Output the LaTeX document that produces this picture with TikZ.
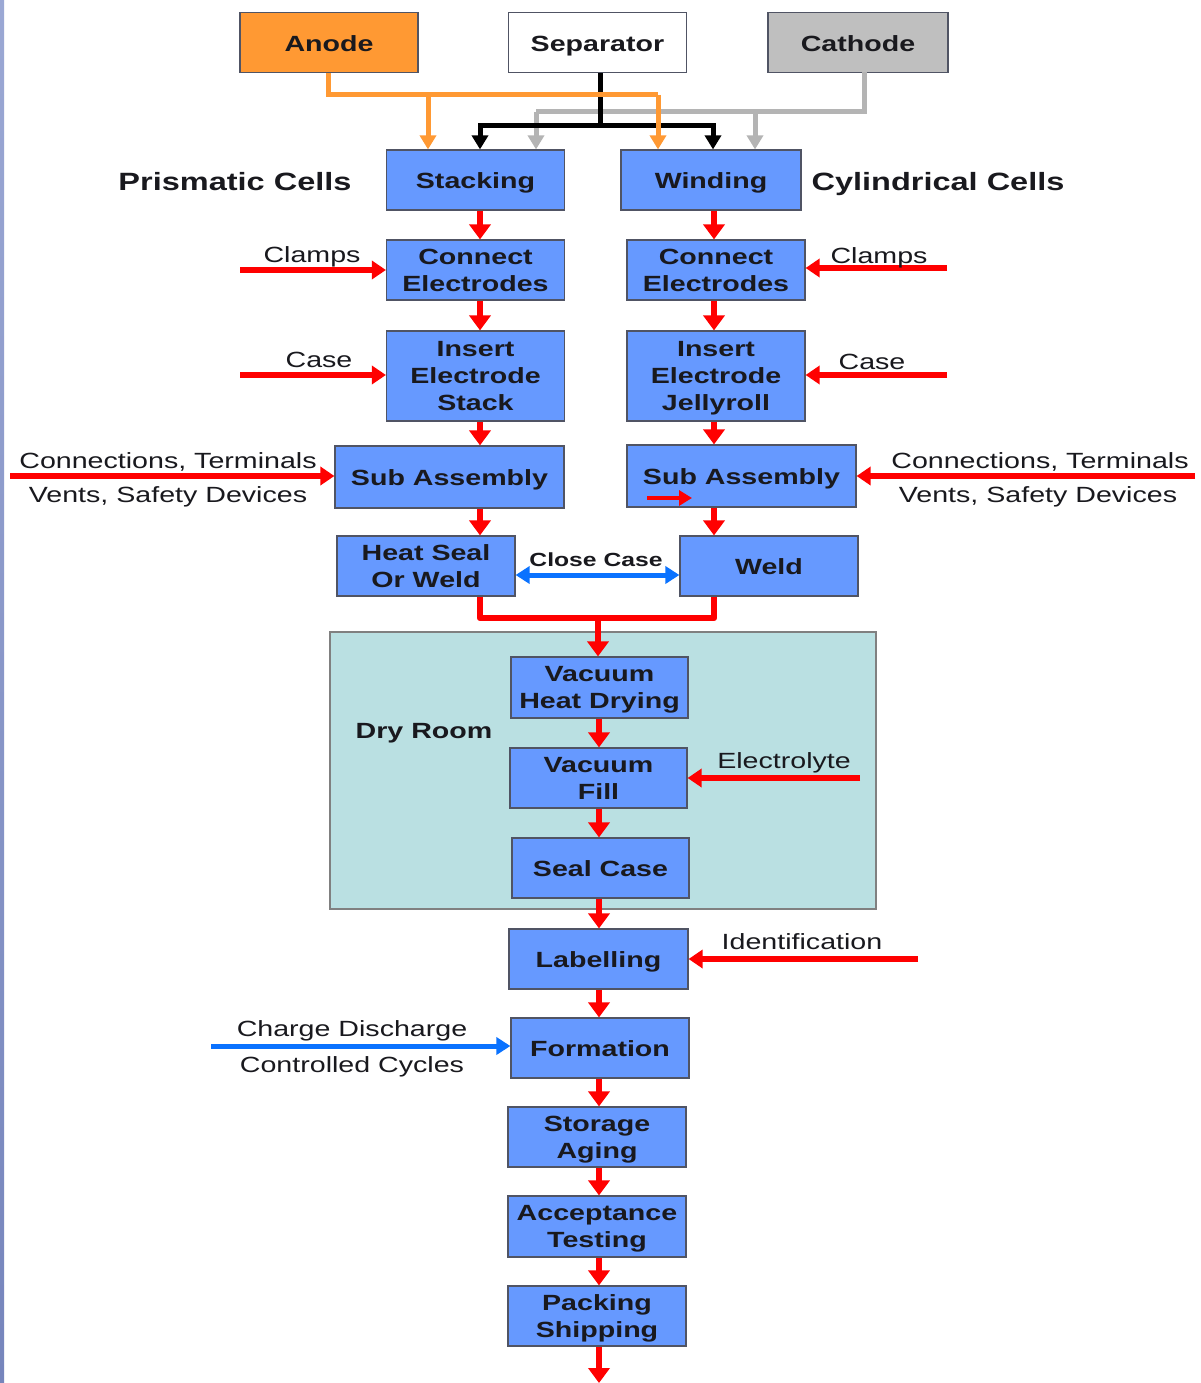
\documentclass[tikz,border=0pt]{standalone}
\usepackage{fontspec}
\setmainfont{Liberation Sans}[FakeStretch=1.3]
\usetikzlibrary{arrows.meta,calc}
\definecolor{boxblue}{RGB}{102,153,255}
\definecolor{boxedge}{RGB}{80,84,100}
\definecolor{flowred}{RGB}{255,0,0}
\definecolor{anodeor}{RGB}{255,153,51}
\definecolor{cathgray}{RGB}{191,191,191}
\definecolor{linegray}{RGB}{180,180,180}
\definecolor{flowblue}{RGB}{10,114,255}
\definecolor{dryfill}{RGB}{186,224,226}
\definecolor{txt}{RGB}{25,25,30}
\definecolor{stripT}{RGB}{155,168,212}
\definecolor{stripB}{RGB}{118,133,188}
\tikzset{
  box/.style={draw=boxedge, line width=1.2pt, fill=boxblue, minimum width=178pt,
    minimum height=60pt, inner sep=0pt, align=center,
    font=\bfseries\fontsize{22}{27}\selectfont, text=txt},
  one/.style={text height=20pt, text depth=2.6pt},
  multi/.style={text depth=0pt},
  lbl/.style={font=\fontsize{22}{27}\selectfont, text=txt, inner sep=0pt, text height=20pt, text depth=2.6pt},
  blbl/.style={font=\bfseries\fontsize{25}{30}\selectfont, text=txt, inner sep=0pt, text height=22pt, text depth=3pt},
  flow/.style={draw=flowred, line width=6.5pt, -{Triangle[width=21pt,length=15pt]}},
  sflow/.style={draw=flowred, line width=5.5pt, -{Triangle[width=18pt,length=14pt]}},
  redline/.style={draw=flowred, line width=6.5pt},
  bflow/.style={draw=flowblue, line width=5pt, -{Triangle[width=17pt,length=14pt]}},
  orline/.style={draw=anodeor, line width=5pt},
  grline/.style={draw=linegray, line width=5pt},
  bkline/.style={draw=black, line width=5pt},
  tipped/.style={-{Triangle[width=16pt,length=14pt]}}
}
\begin{document}
\begin{tikzpicture}[x=1pt,y=-1pt]
\useasboundingbox (0,0) rectangle (1200,1383);
\fill[white] (0,0) rectangle (1200,1383);
\shade[top color=stripT, bottom color=stripB] (0,0) rectangle (4,1383);

% dry room
\node[draw=gray, line width=1.2pt, fill=dryfill, minimum width=546pt, minimum height=277pt, inner sep=0pt] (dry) at (603,770.5) {};
\node[blbl, font=\bfseries\fontsize{22}{27}\selectfont, text height=20pt, text depth=2.6pt] (drylbl) at (424,730) {Dry Room};

% top materials
\node[box, one, fill=anodeor] (anode) at (329,42.5) {Anode};
\node[box, one, fill=white] (sep) at (597.5,42.5) {Separator};
\node[box, one, fill=cathgray, minimum width=180pt] (cath) at (858,42.5) {Cathode};

% main boxes
\node[box, one] (stack) at (475.5,180) {Stacking};
\node[box, one, minimum width=180pt] (wind) at (711,180) {Winding};
\node[blbl] (prism) at (235,181) {Prismatic Cells};
\node[blbl] (cyl) at (938,181) {Cylindrical Cells};

\node[box, multi] (ce1) at (475.5,270) {Connect\\Electrodes};
\node[box, multi] (ce2) at (716,270) {Connect\\Electrodes};
\node[box, multi, minimum height=90pt] (ies) at (475.5,376) {Insert\\Electrode\\Stack};
\node[box, multi, minimum height=90pt] (iej) at (716,376) {Insert\\Electrode\\Jellyroll};
\node[box, one, minimum width=229pt, minimum height=62pt] (sa1) at (449.5,477) {Sub Assembly};
\node[box, one, minimum width=229pt, minimum height=62pt] (sa2) at (741.5,476) {Sub Assembly};
\node[box, multi] (hs) at (426,566) {Heat Seal\\Or Weld};
\node[box, one] (weld) at (769,566) {Weld};

\node[box, multi, minimum width=177pt, minimum height=61pt] (vhd) at (599.5,687.5) {Vacuum\\Heat Drying};
\node[box, multi, minimum width=177pt] (vf) at (598.5,778) {Vacuum\\Fill};
\node[box, one, minimum width=177pt] (sc) at (600.5,868) {Seal Case};
\node[box, one, minimum width=179pt] (lab) at (598.5,959) {Labelling};
\node[box, one] (form) at (600,1048) {Formation};
\node[box, multi] (stor) at (597,1137) {Storage\\Aging};
\node[box, multi, minimum height=61pt] (acc) at (597,1226.5) {Acceptance\\Testing};
\node[box, multi] (pack) at (597,1316) {Packing\\Shipping};

% top connectors
\coordinate (gc) at (864,72);
\coordinate (g1) at (536,112);
\coordinate (g2) at (755,112);
\draw[grline] (gc) |- (g1);
\draw[grline, tipped] (g1) -- (stack.north -| g1);
\draw[grline, tipped] (g2) -- (wind.north -| g2);
\coordinate (b0) at (600,126);
\coordinate (b1) at (480,126);
\coordinate (b2) at (713,126);
\draw[bkline] (sep.south -| b0) -- (b0);
\draw[bkline, line cap=rect] (b1) -- (b2);
\draw[bkline, tipped] (b1) -- (stack.north -| b1);
\draw[bkline, tipped] (b2) -- (wind.north -| b2);
\coordinate (o0) at (328,95);
\coordinate (o1) at (428,95);
\coordinate (o2) at (658,95);
\draw[orline] (anode.south -| o0) -- (o0) -- (o2);
\draw[orline, tipped] (o1) -- (stack.north -| o1);
\draw[orline, tipped] (o2) -- (wind.north -| o2);

% left column flow
\coordinate (lx) at (480,0);
\coordinate (rx) at (714,0);
\draw[flow] (stack.south -| lx) -- (ce1.north -| lx);
\draw[flow] (ce1.south -| lx) -- (ies.north -| lx);
\draw[flow] (ies.south -| lx) -- (sa1.north -| lx);
\draw[flow] (sa1.south -| lx) -- (hs.north -| lx);
% right column flow
\draw[flow] (wind.south -| rx) -- (ce2.north -| rx);
\draw[flow] (ce2.south -| rx) -- (iej.north -| rx);
\draw[flow] (iej.south -| rx) -- (sa2.north -| rx);
\draw[flow] (sa2.south -| rx) -- (weld.north -| rx);

% merge
\coordinate (j) at (598,618);
\draw[redline, line join=round] (hs.south -| lx) |- (j);
\draw[redline, line join=round] (weld.south -| rx) |- (j);
\draw[flow] (j) -- (vhd.north -| j);

% central flow
\coordinate (cx) at (599,0);
\draw[flow] (vhd.south -| cx) -- (vf.north -| cx);
\draw[flow] (vf.south -| cx) -- (sc.north -| cx);
\draw[flow] (sc.south -| cx) -- (lab.north -| cx);
\draw[flow] (lab.south -| cx) -- (form.north -| cx);
\draw[flow] (form.south -| cx) -- (stor.north -| cx);
\draw[flow] (stor.south -| cx) -- (acc.north -| cx);
\draw[flow] (acc.south -| cx) -- (pack.north -| cx);
\coordinate (endp) at (599,1383);
\draw[flow] (pack.south -| cx) -- (endp);

% side inputs
\coordinate (clL) at (240,270);
\draw[sflow] (clL) -- (ce1.west);
\node[lbl] (clLt) at (312,254) {Clamps};
\coordinate (clR) at (947,268);
\draw[sflow] (clR) -- (clR -| ce2.east);
\node[lbl] (clRt) at (879,255) {Clamps};
\coordinate (caL) at (240,375);
\draw[sflow] (caL) -- (caL -| ies.west);
\node[lbl] (caLt) at (319,359) {Case};
\coordinate (caR) at (947,375);
\draw[sflow] (caR) -- (caR -| iej.east);
\node[lbl] (caRt) at (872,361) {Case};
\coordinate (coL) at (10,476);
\draw[sflow] (coL) -- (coL -| sa1.west);
\node[lbl] (coL1) at (168,460) {Connections, Terminals};
\node[lbl] (coL2) at (168,494) {Vents, Safety Devices};
\coordinate (coR) at (1195,476);
\draw[sflow] (coR) -- (coR -| sa2.east);
\node[lbl] (coR1) at (1040,460) {Connections, Terminals};
\node[lbl] (coR2) at (1038,494) {Vents, Safety Devices};
\coordinate (sm1) at (647,498);
\coordinate (sm2) at (692,498);
\draw[sflow, line width=4.5pt, -{Triangle[width=15pt,length=13pt]}] (sm1) -- (sm2);

% close case
\draw[bflow, {Triangle[width=17pt,length=14pt]}-{Triangle[width=17pt,length=14pt]}] ([yshift=-9pt]hs.east) -- ([yshift=-9pt]weld.west);
\node[lbl, font=\bfseries\fontsize{19}{22}\selectfont, text height=17pt, text depth=2pt] (cc) at (596,559) {Close Case};

% dry room inputs
\coordinate (el) at (860,778);
\draw[sflow] (el) -- (el -| vf.east);
\node[lbl] (elt) at (784,760) {Electrolyte};
\coordinate (id) at (918,959);
\draw[sflow] (id) -- (id -| lab.east);
\node[lbl] (idt) at (802,941) {Identification};
\coordinate (cd) at (211,1046);
\draw[bflow] (cd) -- (cd -| form.west);
\node[lbl] (cd1) at (352,1028) {Charge Discharge};
\node[lbl] (cd2) at (352,1064) {Controlled Cycles};
\end{tikzpicture}
\end{document}
